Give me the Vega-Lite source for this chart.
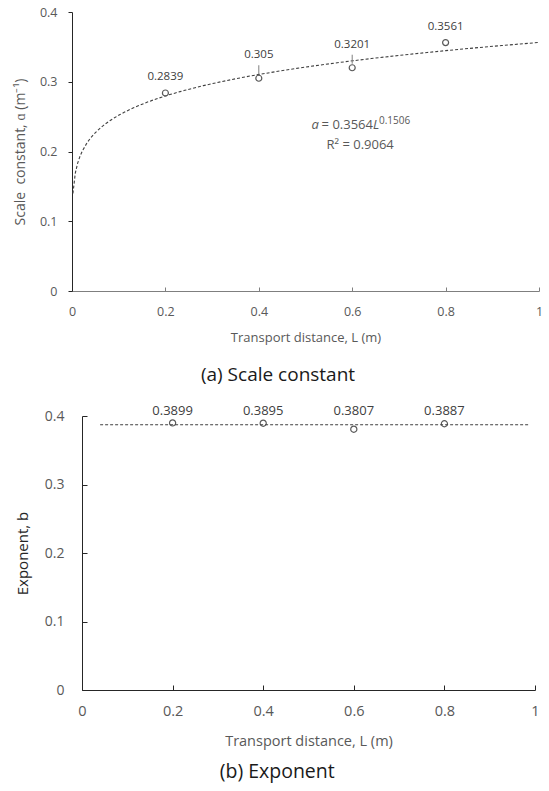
{
  "$schema": "https://vega.github.io/schema/vega-lite/v6.json",
  "padding": {"left": 13, "top": 6, "right": 5, "bottom": 5},
  "config": {
    "font": "Open Sans",
    "view": {"stroke": null},
    "axis": {
      "grid": false,
      "labelFont": "Open Sans",
      "titleFont": "Open Sans",
      "labelColor": "#595959",
      "titleColor": "#595959",
      "titleFontWeight": "normal",
      "domainColor": "#262626",
      "tickColor": "#262626",
      "labelFlush": false,
      "format": "~g"
    },
    "title": {"font": "Open Sans", "fontWeight": "normal", "color": "#1a1a1a", "anchor": "middle", "frame": "bounds"}
  },
  "datasets": {
    "scale": [
      {"L": 0.2, "a": 0.2839},
      {"L": 0.4, "a": 0.305},
      {"L": 0.6, "a": 0.3201},
      {"L": 0.8, "a": 0.3561}
    ],
    "expo": [
      {"L": 0.2, "b": 0.3899},
      {"L": 0.4, "b": 0.3895},
      {"L": 0.6, "b": 0.3807},
      {"L": 0.8, "b": 0.3887}
    ]
  },
  "spacing": 20,
  "vconcat": [
    {
      "width": 467,
      "height": 279,
      "title": {"text": "(a) Scale constant", "orient": "bottom", "fontSize": 19, "offset": 22},
      "layer": [
        {
          "data": {"name": "scale"},
          "transform": [{"regression": "a", "on": "L", "method": "pow", "extent": [0.002, 1]}],
          "mark": {"type": "line", "strokeDash": [3, 2], "color": "#404040", "strokeWidth": 1.1},
          "encoding": {
            "x": {
              "field": "L", "type": "quantitative",
              "scale": {"domain": [0, 1], "nice": false},
              "axis": {
                "values": [0, 0.2, 0.4, 0.6, 0.8, 1],
                "title": "Transport distance, L (m)",
                "tickSize": -4, "labelPadding": 18.5,
                "labelFontSize": 12.5, "titleFontSize": 13, "titlePadding": 13,
                "domainColor": "#7f7f7f", "tickColor": "#7f7f7f"
              }
            },
            "y": {
              "field": "a", "type": "quantitative",
              "scale": {"domain": [0, 0.4], "nice": false},
              "axis": {
                "values": [0, 0.1, 0.2, 0.3, 0.4],
                "title": "Scale\u00a0 constant, ɑ (m⁻¹)",
                "tickSize": 4, "labelPadding": 11,
                "labelFontSize": 12.5, "titleFontSize": 14, "titlePadding": 12
              }
            }
          }
        },
        {
          "data": {"name": "scale"},
          "mark": {"type": "point", "shape": "circle", "filled": false, "size": 36, "color": "#595959", "strokeWidth": 1.2, "opacity": 1},
          "encoding": {
            "x": {"field": "L", "type": "quantitative"},
            "y": {"field": "a", "type": "quantitative"}
          }
        },
        {
          "data": {"name": "scale"},
          "transform": [{"filter": "datum.L == 0.4 || datum.L == 0.6"}],
          "mark": {"type": "rule", "yOffset": -4, "y2Offset": -13, "color": "#7f7f7f"},
          "encoding": {
            "x": {"field": "L", "type": "quantitative"},
            "y": {"field": "a", "type": "quantitative"},
            "y2": {"field": "a"}
          }
        },
        {
          "data": {"name": "scale"},
          "transform": [{"filter": "datum.L == 0.2 || datum.L == 0.8"}],
          "mark": {"type": "text", "dy": -15.5, "fontSize": 11.5, "color": "#404040"},
          "encoding": {
            "x": {"field": "L", "type": "quantitative"},
            "y": {"field": "a", "type": "quantitative"},
            "text": {"field": "a", "type": "quantitative", "format": ".4~f"}
          }
        },
        {
          "data": {"name": "scale"},
          "transform": [{"filter": "datum.L == 0.4 || datum.L == 0.6"}],
          "mark": {"type": "text", "dy": -23, "fontSize": 11.5, "color": "#404040"},
          "encoding": {
            "x": {"field": "L", "type": "quantitative"},
            "y": {"field": "a", "type": "quantitative"},
            "text": {"field": "a", "type": "quantitative", "format": ".4~f"}
          }
        },
        {
          "data": {"values": [{"note": "fit"}]},
          "mark": {"type": "text", "text": "a", "fontStyle": "italic", "align": "right", "dx": -54, "fontSize": 13, "color": "#595959"},
          "encoding": {"x": {"datum": 0.6445, "type": "quantitative"}, "y": {"datum": 0.238, "type": "quantitative"}}
        },
        {
          "data": {"values": [{"note": "fit"}]},
          "mark": {"type": "text", "text": "= 0.3564", "align": "right", "fontSize": 13, "color": "#595959"},
          "encoding": {"x": {"datum": 0.6445, "type": "quantitative"}, "y": {"datum": 0.238, "type": "quantitative"}}
        },
        {
          "data": {"values": [{"note": "fit"}]},
          "mark": {"type": "text", "text": "L", "fontStyle": "italic", "align": "left", "fontSize": 13, "color": "#595959"},
          "encoding": {"x": {"datum": 0.6445, "type": "quantitative"}, "y": {"datum": 0.238, "type": "quantitative"}}
        },
        {
          "data": {"values": [{"note": "fit"}]},
          "mark": {"type": "text", "text": "0.1506", "align": "left", "dx": 6, "dy": -4, "fontSize": 10, "color": "#595959"},
          "encoding": {"x": {"datum": 0.6445, "type": "quantitative"}, "y": {"datum": 0.238, "type": "quantitative"}}
        },
        {
          "data": {"values": [{"note": "fit"}]},
          "mark": {"type": "text", "text": "R² = 0.9064", "align": "center", "fontSize": 13, "color": "#595959"},
          "encoding": {"x": {"datum": 0.617, "type": "quantitative"}, "y": {"datum": 0.2095, "type": "quantitative"}}
        }
      ]
    },
    {
      "width": 463,
      "height": 274,
      "title": {"text": "(b) Exponent", "orient": "bottom", "fontSize": 19.5, "offset": 15},
      "layer": [
        {
          "data": {"name": "expo"},
          "mark": {"type": "point", "shape": "circle", "filled": false, "size": 38, "color": "#595959", "strokeWidth": 1.2, "opacity": 1},
          "encoding": {
            "x": {
              "field": "L", "type": "quantitative",
              "scale": {"domain": [0, 1], "nice": false, "range": [10, 463]},
              "axis": {
                "values": [0, 0.2, 0.4, 0.6, 0.8, 1],
                "title": "Transport distance, L (m)",
                "tickSize": -5, "labelPadding": 19,
                "labelFontSize": 14.5, "titleFontSize": 14.5, "titlePadding": 17
              }
            },
            "y": {
              "field": "b", "type": "quantitative",
              "scale": {"domain": [0, 0.4], "nice": false},
              "axis": {
                "values": [0, 0.1, 0.2, 0.3, 0.4],
                "title": "Exponent, b",
                "offset": -10,
                "tickSize": -5, "labelPadding": 23,
                "labelFontSize": 14, "titleFontSize": 15, "titlePadding": 14,
                "titleColor": "#262626"
              }
            }
          }
        },
        {
          "data": {"name": "expo"},
          "transform": [{"aggregate": [{"op": "mean", "field": "b", "as": "b"}]}],
          "mark": {"type": "rule", "strokeDash": [3, 2], "color": "#404040", "strokeWidth": 1.1},
          "encoding": {
            "x": {"datum": 0.04, "type": "quantitative"},
            "x2": {"datum": 0.985},
            "y": {"field": "b", "type": "quantitative"}
          }
        },
        {
          "data": {"name": "expo"},
          "mark": {"type": "text", "dy": -5, "fontSize": 13, "color": "#404040"},
          "encoding": {
            "x": {"field": "L", "type": "quantitative"},
            "y": {"datum": 0.4, "type": "quantitative"},
            "text": {"field": "b", "type": "quantitative", "format": ".4~f"}
          }
        }
      ]
    }
  ]
}
